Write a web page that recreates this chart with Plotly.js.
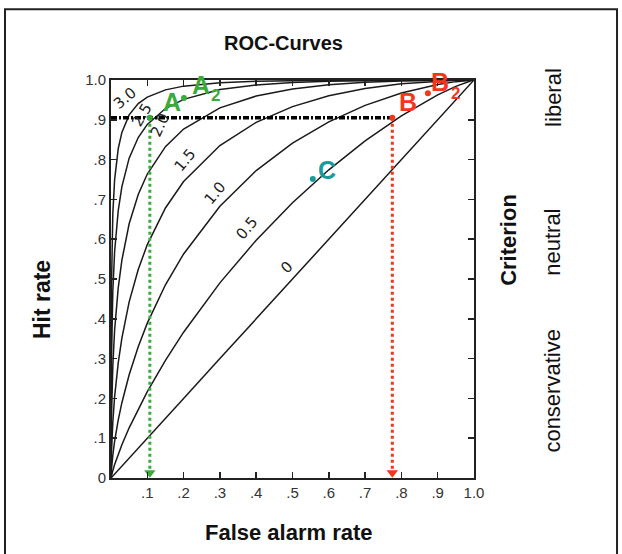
<!DOCTYPE html>
<html>
<head>
<meta charset="utf-8">
<script src="https://cdn.plot.ly/plotly-3.0.1.min.js"></script>
<style>html,body{margin:0;padding:0;background:#fff;}#chart{width:622px;height:554px;}</style>
</head>
<body>
<div id="chart"></div>
<script>
// False alarm rate samples and hit rates (d')
const falseAlarm = [0, 0.00001, 0.0001, 0.001, 0.005, 0.01, 0.02, 0.03, 0.05, 0.075, 0.1, 0.15, 0.2, 0.3, 0.4, 0.5, 0.6, 0.7, 0.8, 0.9, 0.95, 0.99, 1];
const hitD00 = [0, 0.00001, 0.0001, 0.001, 0.005, 0.01, 0.02, 0.03, 0.05, 0.075, 0.1, 0.15, 0.2, 0.3, 0.4, 0.5, 0.6, 0.7, 0.8, 0.9, 0.95, 0.99, 1];
const hitD05 = [0, 0.0001, 0.0006, 0.0048, 0.0189, 0.0339, 0.0601, 0.0836, 0.1261, 0.1736, 0.2172, 0.2958, 0.3663, 0.4903, 0.5974, 0.6915, 0.7744, 0.8472, 0.9101, 0.9626, 0.9840, 0.9976, 1];
const hitD10 = [0, 0.0005, 0.0033, 0.0183, 0.0575, 0.0924, 0.1459, 0.1892, 0.2595, 0.3300, 0.3891, 0.4855, 0.5629, 0.6828, 0.7724, 0.8413, 0.8949, 0.9363, 0.9672, 0.9887, 0.9959, 0.9996, 1];
const hitD15 = [0, 0.0028, 0.0132, 0.0559, 0.1410, 0.2044, 0.2898, 0.3516, 0.4424, 0.5239, 0.5864, 0.6785, 0.7449, 0.8354, 0.8937, 0.9332, 0.9602, 0.9785, 0.9904, 0.9973, 0.9992, 0.9999, 1];
const hitD20 = [0, 0.0118, 0.0428, 0.1379, 0.2823, 0.3722, 0.4785, 0.5474, 0.6387, 0.7123, 0.7638, 0.8324, 0.8767, 0.9300, 0.9597, 0.9772, 0.9879, 0.9942, 0.9978, 0.9995, 0.9999, 1, 1];
const hitD25 = [0, 0.0388, 0.1114, 0.2776, 0.4697, 0.5691, 0.6722, 0.7320, 0.8037, 0.8554, 0.8885, 0.9283, 0.9514, 0.9759, 0.9877, 0.9938, 0.9971, 0.9988, 0.9996, 0.9999, 1, 1, 1];
const hitD30 = [0, 0.1029, 0.2360, 0.4641, 0.6642, 0.7498, 0.8279, 0.8684, 0.9123, 0.9406, 0.9571, 0.9752, 0.9846, 0.9933, 0.9970, 0.9987, 0.9994, 0.9998, 0.9999, 1, 1, 1, 1];

const curveLabels = ['3.0', '2.5', '2.0', '1.5', '1.0', '0.5', '0'];
const curveLabelX = [0.039, 0.085, 0.135, 0.204, 0.287, 0.375, 0.485];
const curveLabelY = [0.955, 0.912, 0.887, 0.799, 0.716, 0.628, 0.530];
const curveLabelAngle = [-40, -60, -65, -50, -50, -50, -45];

// Marked operating points
const pointNames = ['A', 'A', 'B', 'B', 'C'];
const pointSubs = ['', '2', '', '2', ''];
const pointX = [0.107, 0.201, 0.775, 0.873, 0.556];
const pointY = [0.905, 0.955, 0.905, 0.967, 0.751];

const xTickVals = [0.1, 0.2, 0.3, 0.4, 0.5, 0.6, 0.7, 0.8, 0.9, 1.0];
const xTickText = ['.1', '.2', '.3', '.4', '.5', '.6', '.7', '.8', '.9', '1.0'];
const yTickVals = [0, 0.1, 0.2, 0.3, 0.4, 0.5, 0.6, 0.7, 0.8, 0.9, 1.0];
const yTickText = ['0', '.1', '.2', '.3', '.4', '.5', '.6', '.7', '.8', '.9', '1.0'];

const criterionLabels = ['liberal', 'neutral', 'conservative'];

const GREEN = '#3aab3a', RED = '#f4361a', TEAL = '#1b9a9c';
const curves = [hitD00, hitD05, hitD10, hitD15, hitD20, hitD25, hitD30];

const traces = curves.map(h => ({
  x: falseAlarm, y: h, mode: 'lines', type: 'scatter',
  line: {color: '#1a1a1a', width: 1.5}, hoverinfo: 'skip', showlegend: false
}));

// criterion line at hit rate of A and B
traces.push({x: [0, pointX[2]], y: [pointY[0], pointY[2]], mode: 'lines',
  line: {color: '#000', width: 3.5, dash: '6px,2px,2px,2px'}, showlegend: false});
// vertical projections
traces.push({x: [pointX[0], pointX[0]], y: [pointY[0], 0.02], mode: 'lines',
  line: {color: GREEN, width: 3, dash: 'dot'}, showlegend: false});
traces.push({x: [pointX[2], pointX[2]], y: [pointY[2], 0.02], mode: 'lines',
  line: {color: RED, width: 3, dash: 'dot'}, showlegend: false});
traces.push({x: [pointX[0], pointX[2]], y: [0.013, 0.013], mode: 'markers',
  marker: {symbol: 'triangle-down', size: 10, color: [GREEN, RED]}, showlegend: false});
traces.push({x: pointX, y: pointY, mode: 'markers',
  marker: {size: 6, color: [GREEN, GREEN, RED, RED, TEAL]}, showlegend: false});

const annotations = [];
curveLabels.forEach((t, i) => annotations.push({
  x: curveLabelX[i], y: curveLabelY[i], xref: 'x', yref: 'y', text: t, showarrow: false,
  textangle: curveLabelAngle[i], font: {family: 'DejaVu Sans', size: 15, color: '#222'}
}));
const letterColors = [GREEN, GREEN, RED, RED, TEAL];
const letterDX = [22, 17, 16, 12, 14];
const letterDY = [16, 13, 16, 11, 9];
const subDX = [0, 32, 0, 28, 0];
const subDY = [0, 2, 0, 0, 0];
pointNames.forEach((t, i) => {
  annotations.push({
    x: pointX[i], y: pointY[i], xref: 'x', yref: 'y', text: '<b>' + t + '</b>', showarrow: false,
    xanchor: 'center', yanchor: 'middle', xshift: letterDX[i], yshift: letterDY[i],
    font: {family: 'Liberation Sans, Arial', size: 25, color: letterColors[i]}
  });
  if (pointSubs[i]) annotations.push({
    x: pointX[i], y: pointY[i], xref: 'x', yref: 'y', text: '<b>' + pointSubs[i] + '</b>', showarrow: false,
    xanchor: 'center', yanchor: 'middle', xshift: subDX[i], yshift: subDY[i],
    font: {family: 'Liberation Sans, Arial', size: 17, color: letterColors[i]}
  });
});

const txt = (x, y, t, size, bold, angle) => ({
  x: x, y: y, xref: 'paper', yref: 'paper', text: bold ? '<b>' + t + '</b>' : t,
  showarrow: false, textangle: angle || 0, xanchor: 'center', yanchor: 'middle',
  font: {family: 'Liberation Sans, Arial', size: size, color: '#111'}
});
annotations.push(txt(0.474, 1.093, 'ROC-Curves', 20, true));
annotations.push(txt(0.49, -0.136, 'False alarm rate', 22, true));
annotations.push(txt(-0.19, 0.447, 'Hit rate', 23, true, -90));
annotations.push(txt(1.096, 0.598, 'Criterion', 22, true, -90));
annotations.push(txt(1.217, 0.957, criterionLabels[0], 22, false, -90));
annotations.push(txt(1.217, 0.593, criterionLabels[1], 22, false, -90));
annotations.push(txt(1.217, 0.219, criterionLabels[2], 22, false, -90));

const layout = {
  width: 622, height: 554,
  margin: {l: 111, r: 148, t: 80, b: 76},
  paper_bgcolor: '#fff', plot_bgcolor: '#fff',
  showlegend: false,
  xaxis: {range: [0, 1], tickvals: xTickVals, ticktext: xTickText, ticks: 'inside', ticklen: 6,
    tickwidth: 1.5, tickcolor: '#222', showline: true, linecolor: '#222', linewidth: 2, mirror: 'ticks',
    showgrid: false, zeroline: false, tickfont: {family: 'Liberation Sans, Arial', size: 15, color: '#333'}},
  yaxis: {range: [0, 1], tickvals: yTickVals, ticktext: yTickText, ticks: 'inside', ticklen: 6,
    tickwidth: 1.5, tickcolor: '#222', showline: true, linecolor: '#222', linewidth: 2, mirror: 'ticks',
    showgrid: false, zeroline: false, tickfont: {family: 'Liberation Sans, Arial', size: 15, color: '#333'}},
  annotations: annotations,
  shapes: [{type: 'rect', xref: 'paper', yref: 'paper', x0: -0.292, x1: 1.394, y0: -0.25, y1: 1.178,
    line: {color: '#222', width: 2}, fillcolor: 'rgba(0,0,0,0)'}]
};

Plotly.newPlot('chart', traces, layout, {displayModeBar: false, staticPlot: true});
</script>
</body>
</html>
